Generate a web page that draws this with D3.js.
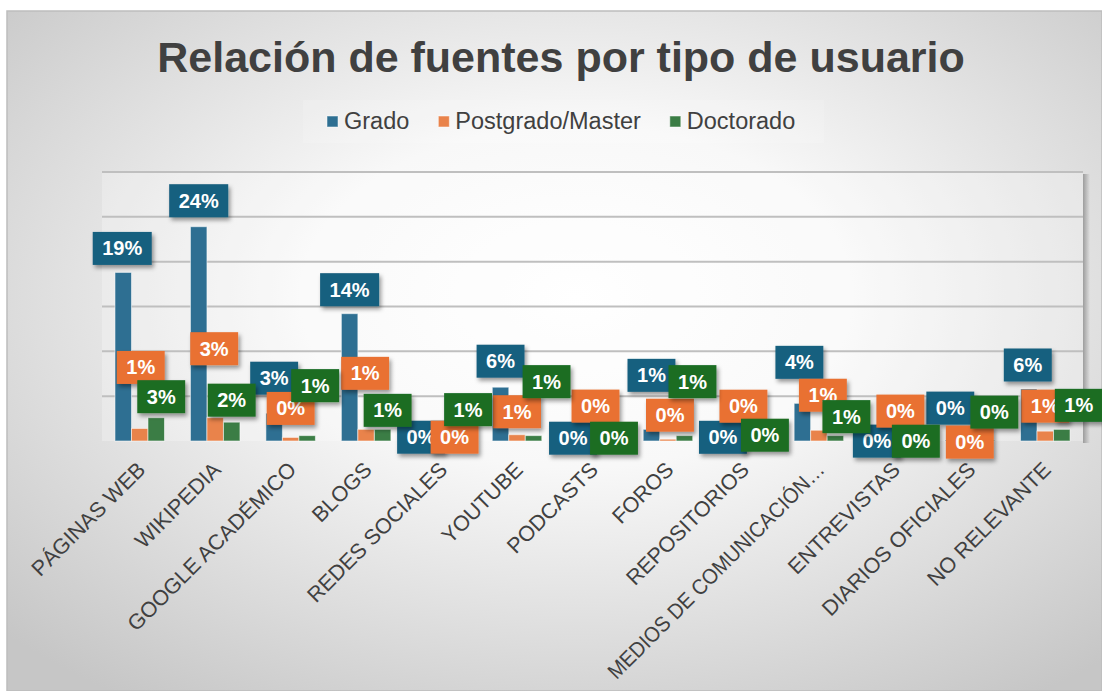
<!DOCTYPE html>
<html>
<head>
<meta charset="utf-8">
<script src="https://cdn.jsdelivr.net/npm/d3@7"></script>
<style>
  body { margin: 0; background: #fff; }
  svg text { font-family: "Liberation Sans", Arial, sans-serif; }
</style>
</head>
<body>
<div id="chart"></div>
<script>
const categories = ["PÁGINAS WEB", "WIKIPEDIA", "GOOGLE ACADÉMICO", "BLOGS", "REDES SOCIALES",
  "YOUTUBE", "PODCASTS", "FOROS", "REPOSITORIOS", "MEDIOS DE COMUNICACIÓN…",
  "ENTREVISTAS", "DIARIOS OFICIALES", "NO RELEVANTE"];
const seriesNames = ["Grado", "Postgrado/Master", "Doctorado"];
const grado     = [0.188, 0.239, 0.031, 0.142, 0.002, 0.060, 0.002, 0.013, 0.003, 0.042, 0.001, 0.001, 0.058];
const postgrado = [0.014, 0.026, 0.004, 0.013, 0.002, 0.007, 0.001, 0.002, 0.002, 0.012, 0.001, 0.001, 0.011];
const doctorado = [0.026, 0.021, 0.006, 0.013, 0.006, 0.006, 0.002, 0.006, 0.002, 0.006, 0.002, 0.001, 0.013];
const yTicks = [0.05, 0.10, 0.15, 0.20, 0.25, 0.30];

const barColors = ["#2e6f92", "#e9834b", "#3b7d45"];
const labelColors = ["#17607f", "#e97132", "#1b6d24"];

// excel pushed the data labels around so they don't collide, nudge them the same way [dx, dy]
const labelShift = [
  [[-1,0],[0,-2],[0,-11],[0,0],[-4,22],[0,-2],[-3,23],[0,-30],[-4,23],[-3,-17],[-1,25],[-3,-8],[-1,0]],
  [[1,-37],[-1,-45],[0,-5],[-1,-32],[13,22],[0,1],[3,-10],[2,0],[0,-9],[4,-11],[6,-5],[0,26],[0,-1]],
  [[5,3],[0,2],[8,-26],[5,5],[10,-2],[13,-30],[5,23],[8,-30],[5,20],[11,5],[5,26],[8,-4],[17,0]]
];

const W = 1102, H = 691;
const margin = ({top: 172, right: 19, bottom: 250, left: 102});
const width = W - margin.left - margin.right;
const height = H - margin.top - margin.bottom;

const rows = categories.map((c, i) => ({cat: c, values: [grado[i], postgrado[i], doctorado[i]]}));

const svg = d3.select('#chart')
  .append('svg')
  .attr('width', W)
  .attr('height', H);

const defs = svg.append('defs');
const bg = defs.append('radialGradient')
  .attr('id', 'bgGrad')
  .attr('cx', '52%').attr('cy', '42%').attr('r', '72%');
bg.append('stop').attr('offset', '0%').attr('stop-color', '#ffffff');
bg.append('stop').attr('offset', '35%').attr('stop-color', '#f8f8f8');
bg.append('stop').attr('offset', '100%').attr('stop-color', '#c6c6c6');

const shadow = defs.append('filter').attr('id', 'shadow')
  .attr('x', '-20%').attr('y', '-20%').attr('width', '150%').attr('height', '160%');
shadow.append('feDropShadow')
  .attr('dx', 2).attr('dy', 3).attr('stdDeviation', 2.2)
  .attr('flood-color', '#000').attr('flood-opacity', 0.4);

const edge = defs.append('linearGradient').attr('id', 'edgeGrad');
edge.append('stop').attr('offset', '0%').attr('stop-color', '#8c8c8c').attr('stop-opacity', 0.8);
edge.append('stop').attr('offset', '100%').attr('stop-color', '#8c8c8c').attr('stop-opacity', 0);

// chart background
svg.append('rect')
  .attr('x', 7).attr('y', 11)
  .attr('width', W - 7).attr('height', H - 11)
  .attr('fill', 'url(#bgGrad)')
  .attr('stroke', '#bdbdbd')
  .attr('stroke-width', 1.5);

// title
svg.append('text')
  .attr('x', 561).attr('y', 72)
  .attr('text-anchor', 'middle')
  .attr('font-size', 43)
  .attr('font-weight', 'bold')
  .attr('fill', '#404040')
  .text('Relación de fuentes por tipo de usuario');

// legend
svg.append('rect')
  .attr('x', 303).attr('y', 100)
  .attr('width', 521).attr('height', 43)
  .attr('fill', '#ffffff').attr('opacity', 0.15);

const legend = svg.append('g').attr('transform', 'translate(327, 0)');
let lx = 0;
seriesNames.forEach((name, i) => {
  legend.append('rect')
    .attr('x', lx).attr('y', 116)
    .attr('width', 11).attr('height', 11)
    .attr('fill', barColors[i])
    .attr('stroke', '#ffffff').attr('stroke-opacity', 0.5);
  const t = legend.append('text')
    .attr('x', lx + 17).attr('y', 129)
    .attr('font-size', 23.5)
    .attr('fill', '#404040')
    .text(name);
  lx += 17 + t.node().getComputedTextLength() + 29;
});

const g = svg.append('g')
  .attr('transform', `translate(${margin.left}, ${margin.top})`);

const x0 = d3.scaleBand()
  .domain(categories)
  .range([0, width])
  .paddingInner(0.344)
  .paddingOuter(0.172);

const x1 = d3.scaleBand()
  .domain(seriesNames)
  .range([0, x0.bandwidth()]);

const yScale = d3.scaleLinear()
  .domain([0, 0.30])
  .range([height, 0]);

// plot area
g.append('rect')
  .attr('width', width).attr('height', height)
  .attr('fill', '#ffffff').attr('opacity', 0.25);
g.append('rect')
  .attr('x', width).attr('y', 2)
  .attr('width', 7).attr('height', height)
  .attr('fill', 'url(#edgeGrad)');

g.selectAll('.grid')
  .data(yTicks)
  .enter()
  .append('line')
  .attr('class', 'grid')
  .attr('x1', 0).attr('x2', width)
  .attr('y1', d => yScale(d)).attr('y2', d => yScale(d))
  .attr('stroke', '#bfbfbf')
  .attr('stroke-width', 2);

// bars
const groups = g.selectAll('.cat')
  .data(rows)
  .enter()
  .append('g')
  .attr('class', 'cat')
  .attr('transform', d => `translate(${x0(d.cat)}, 0)`);

groups.selectAll('rect')
  .data(d => d.values.map((v, i) => ({v, i})))
  .enter()
  .append('rect')
  .attr('x', d => x1(seriesNames[d.i]))
  .attr('y', d => yScale(d.v))
  .attr('width', x1.bandwidth())
  .attr('height', d => height - yScale(d.v))
  .attr('fill', d => barColors[d.i])
  .attr('stroke', '#ffffff')
  .attr('stroke-opacity', 0.55)
  .attr('stroke-width', 1);

// axis line
g.append('line')
  .attr('x1', 0).attr('x2', width)
  .attr('y1', height).attr('y2', height)
  .attr('stroke', '#404040')
  .attr('stroke-width', 4)
  .attr('filter', 'url(#shadow)');

const xAxis = d3.axisBottom(x0).tickSize(0).tickSizeOuter(0);
const axisG = g.append('g')
  .attr('transform', `translate(0, ${height})`)
  .call(xAxis);
axisG.select('.domain').remove();
axisG.selectAll('text')
  .attr('x', 0).attr('y', 0).attr('dy', 0)
  .attr('transform', 'translate(7, 30) rotate(-45)')
  .attr('text-anchor', 'end')
  .attr('font-size', 21.5)
  .attr('font-family', '"Liberation Sans", Arial, sans-serif')
  .attr('fill', '#404040')
  .each(function() {
    // the long truncated label has to stay inside the chart
    if (this.getComputedTextLength() > 296) {
      d3.select(this).attr('textLength', 296).attr('lengthAdjust', 'spacingAndGlyphs');
    }
  });

// data labels, drawn series by series so later series sit on top
const fmt = d3.format('.0%');
seriesNames.forEach((name, s) => {
  rows.forEach((d, i) => {
    const v = d.values[s];
    const cx = x0(d.cat) + x1(name) + x1.bandwidth() / 2 + labelShift[s][i][0];
    const cy = yScale(v) - 24 + labelShift[s][i][1];
    const lab = g.append('g').attr('transform', `translate(${cx}, ${cy})`);
    const box = lab.append('rect')
      .attr('fill', labelColors[s])
      .attr('filter', 'url(#shadow)');
    const t = lab.append('text')
      .attr('text-anchor', 'middle')
      .attr('y', 7)
      .attr('font-size', 20)
      .attr('font-weight', 'bold')
      .attr('fill', '#ffffff')
      .text(fmt(v));
    const w = t.node().getComputedTextLength() + 19;
    box.attr('x', -w / 2).attr('y', -16.5).attr('width', w).attr('height', 33);
  });
});
</script>
</body>
</html>
